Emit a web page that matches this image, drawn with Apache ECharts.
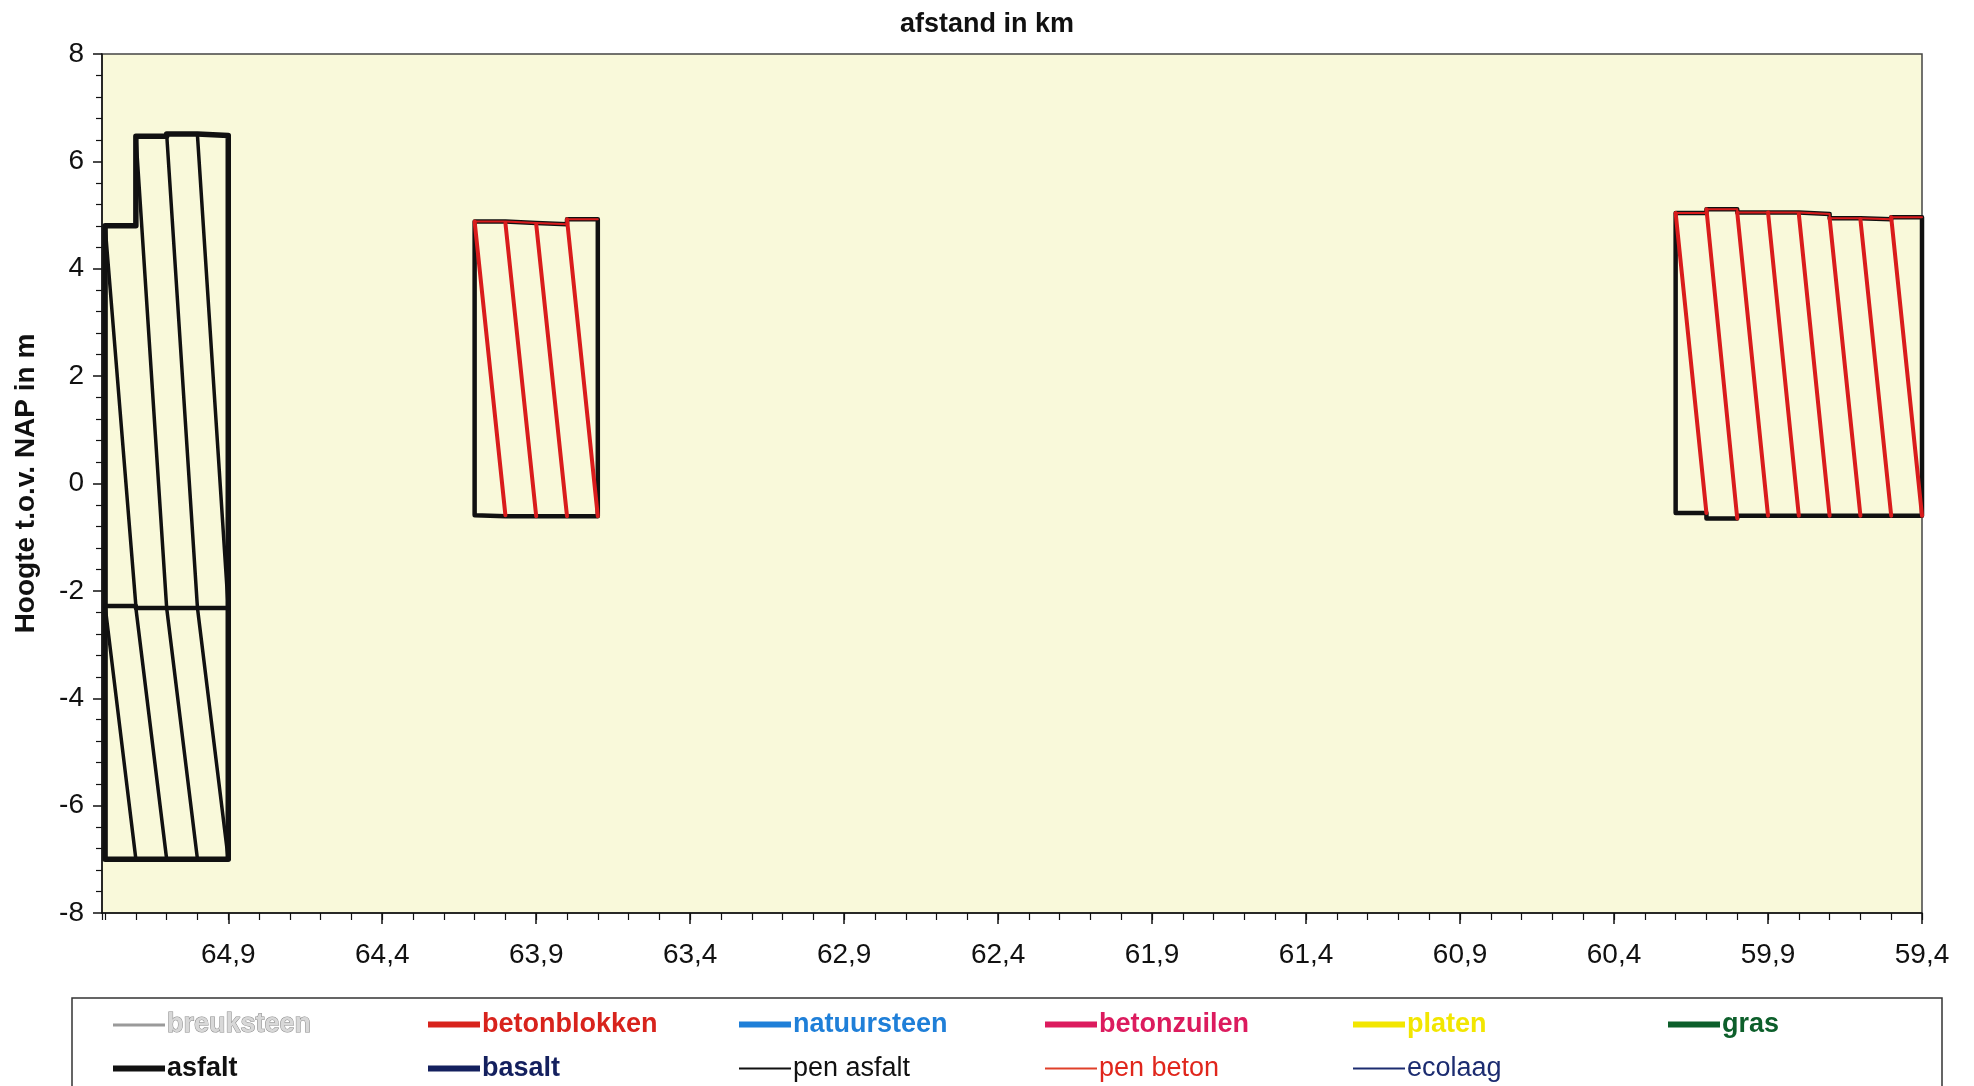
<!DOCTYPE html>
<html>
<head>
<meta charset="utf-8">
<script src="https://cdn.jsdelivr.net/npm/echarts@6/dist/echarts.min.js"></script>
<style>
html,body{margin:0;padding:0;background:#ffffff;}
#chart{width:1974px;height:1086px;}
</style>
</head>
<body>
<div id="chart"></div>
<script>
// ---------- data ----------
// axis
const xMin = 59.4, xMax = 65.31, xMajorStep = 0.5, xMinorStep = 0.1;
const yMin = -8, yMax = 8, yStep = 2;

// block 1 : asfalt (km 65.3 - 64.9), upper and lower layer
const asfaltKm     = [65.3, 65.2, 65.1, 65.0, 64.9];
const asfaltTop    = [4.8, 6.47, 6.51, 6.48];
const asfaltMid    = [-2.28, -2.32, -2.32, -2.32];
const asfaltBottom = [-7.0, -7.0, -7.0, -7.0];

// block 2 : beton (km 64.1 - 63.7)
const beton1Km     = [64.1, 64.0, 63.9, 63.8, 63.7];
const beton1Top    = [4.88, 4.85, 4.83, 4.92];
const beton1Bottom = [-0.59, -0.61, -0.61, -0.61];

// block 3 : beton (km 60.2 - 59.4)
const beton2Km     = [60.2, 60.1, 60.0, 59.9, 59.8, 59.7, 59.6, 59.5, 59.4];
const beton2Top    = [5.04, 5.11, 5.05, 5.05, 5.02, 4.94, 4.92, 4.96];
const beton2Bottom = [-0.55, -0.65, -0.6, -0.6, -0.6, -0.6, -0.6, -0.6];

// legend entries
const legendRow1 = ['breuksteen', 'betonblokken', 'natuursteen', 'betonzuilen', 'platen', 'gras'];
const legendRow2 = ['asfalt', 'basalt', 'pen asfalt', 'pen beton', 'ecolaag'];

// ---------- styles ----------
const FONT = "'Liberation Sans', Arial, sans-serif";
const BLACK = '#111111';
const RED = '#d91c1c';
const legendStyle = {
  'breuksteen':   {color: '#9a9a9a', text: '#d8d8d8', border: '#8a8a8a', h: 3, bold: true},
  'betonblokken': {color: '#d8231c', text: '#d8231c', h: 6, bold: true},
  'natuursteen':  {color: '#1f7fd8', text: '#1f7fd8', h: 6, bold: true},
  'betonzuilen':  {color: '#dc1b5e', text: '#dc1b5e', h: 6, bold: true},
  'platen':       {color: '#f2e600', text: '#f2e600', h: 6, bold: true},
  'gras':         {color: '#0d5f2b', text: '#0d5f2b', h: 6, bold: true},
  'asfalt':       {color: '#111111', text: '#111111', h: 6, bold: true},
  'basalt':       {color: '#14205e', text: '#14205e', h: 6, bold: true},
  'pen asfalt':   {color: '#111111', text: '#111111', h: 2, bold: false},
  'pen beton':    {color: '#e0402a', text: '#e0261c', h: 2, bold: false},
  'ecolaag':      {color: '#1c2c70', text: '#1c2c70', h: 2, bold: false}
};
const legendColX = [113, 428, 739, 1045, 1353, 1668];
const legendRowY = [1011, 1055];

// ---------- helpers building paths from the data ----------
function outlinePath(km, top, bottom) {
  const n = top.length;
  const pts = [[km[0], bottom[0]], [km[0], top[0]]];
  for (let i = 0; i < n; i++) {
    pts.push([km[i + 1], top[i]]);
    if (i + 1 < n) pts.push([km[i + 1], top[i + 1]]);
  }
  pts.push([km[n], bottom[n - 1]]);
  for (let i = n - 1; i >= 0; i--) {
    pts.push([km[i], bottom[i]]);
    if (i > 0) pts.push([km[i], bottom[i - 1]]);
  }
  return pts;
}
function stepPath(km, level) {
  const pts = [];
  for (let i = 0; i < level.length; i++) {
    pts.push([km[i], level[i]]);
    pts.push([km[i + 1], level[i]]);
  }
  return pts;
}
function diagonals(km, from, to) {
  const out = [];
  for (let i = 0; i < from.length; i++) {
    out.push({coords: [[km[i], from[i]], [km[i + 1], to[i]]]});
  }
  return out;
}
function polyline(data, color, width, z) {
  return {type: 'line', data: data, symbol: 'none', showSymbol: false, silent: true,
    lineStyle: {color: color, width: width, cap: 'round', join: 'round'}, z: z, animation: false};
}
function segLines(data, color, width, z) {
  return {type: 'lines', coordinateSystem: 'cartesian2d', data: data, polyline: false, silent: true,
    lineStyle: {color: color, width: width, opacity: 1, cap: 'round'}, effect: {show: false}, z: z, animation: false};
}

const series = [];
// block 1 (asfalt)
series.push(polyline(outlinePath(asfaltKm, asfaltTop, asfaltBottom), BLACK, 5.5, 5));
series.push(polyline(stepPath(asfaltKm, asfaltMid), BLACK, 4.5, 5));
series.push(segLines(diagonals(asfaltKm, asfaltTop, asfaltMid), BLACK, 3.5, 4));
series.push(segLines(diagonals(asfaltKm, asfaltMid, asfaltBottom), BLACK, 3.5, 4));
// block 2 (beton)
series.push(polyline(outlinePath(beton1Km, beton1Top, beton1Bottom), BLACK, 4.5, 4));
series.push(segLines(diagonals(beton1Km, beton1Top, beton1Bottom), RED, 4, 6));
series.push(polyline(stepPath(beton1Km, beton1Top), RED, 2, 6));
// block 3 (beton)
series.push(polyline(outlinePath(beton2Km, beton2Top, beton2Bottom), BLACK, 4.5, 4));
series.push(segLines(diagonals(beton2Km, beton2Top, beton2Bottom), RED, 4, 6));
series.push(polyline(stepPath(beton2Km, beton2Top), RED, 2, 6));

// legend dummy series
legendRow1.concat(legendRow2).forEach(function (name) {
  series.push({type: 'line', name: name, data: [], color: legendStyle[name].color, symbol: 'none'});
});

const legends = [];
[legendRow1, legendRow2].forEach(function (row, r) {
  row.forEach(function (name, c) {
    const st = legendStyle[name];
    legends.push({
      show: true, selectedMode: false, orient: 'horizontal',
      left: legendColX[c], top: legendRowY[r], padding: 0,
      itemWidth: 52, itemHeight: st.h, itemGap: 0,
      icon: 'rect',
      data: [{name: name, icon: 'rect'}],
      textStyle: {
        color: st.text, fontSize: 27, fontFamily: FONT,
        fontWeight: st.bold ? 'bold' : 'normal',
        textBorderColor: st.border || 'transparent',
        textBorderWidth: st.border ? 1 : 0,
        padding: [0, 0, 0, -3]
      }
    });
  });
});

const chart = echarts.init(document.getElementById('chart'), null, {renderer: 'canvas'});
chart.setOption({
  animation: false,
  backgroundColor: '#ffffff',
  title: {
    text: 'afstand in km', left: 'center', top: 6,
    textStyle: {fontFamily: FONT, fontSize: 27, fontWeight: 'bold', color: '#111'}
  },
  legend: legends,
  grid: {
    left: 102, right: 52, top: 54, bottom: 173,
    show: true, backgroundColor: '#f9f9da', borderColor: '#444', borderWidth: 1.5,
    containLabel: false
  },
  xAxis: [
    {
      type: 'value', inverse: true, position: 'bottom',
      min: xMin, max: xMax, interval: xMajorStep,
      axisLine: {show: true, onZero: false, lineStyle: {color: '#111', width: 1.5}},
      axisTick: {show: true, length: 11, lineStyle: {color: '#111', width: 1.5}},
      minorTick: {show: false},
      splitLine: {show: false},
      axisLabel: {
        show: true, margin: 28, fontSize: 28, fontFamily: FONT, color: '#111',
        showMaxLabel: false, showMinLabel: true,
        formatter: function (v) { return v.toFixed(1).replace('.', ','); }
      }
    },
    {
      type: 'value', inverse: true, position: 'bottom',
      min: xMin, max: xMax, interval: xMinorStep,
      axisLine: {show: false, onZero: false},
      axisTick: {show: true, length: 7, lineStyle: {color: '#111', width: 1.2}},
      splitLine: {show: false},
      axisLabel: {show: false}
    }
  ],
  yAxis: {
    type: 'value', min: yMin, max: yMax, interval: yStep,
    name: 'Hoogte t.o.v. NAP in m', nameLocation: 'middle', nameRotate: 90, nameGap: 62,
    nameTextStyle: {fontFamily: FONT, fontSize: 28, fontWeight: 'bold', color: '#111'},
    axisLine: {show: true, onZero: false, lineStyle: {color: '#111', width: 1.5}},
    axisTick: {show: true, length: 9, lineStyle: {color: '#111', width: 1.5}},
    minorTick: {show: true, splitNumber: 5, length: 6, lineStyle: {color: '#111', width: 1.2}},
    splitLine: {show: false},
    axisLabel: {margin: 18, fontSize: 28, fontFamily: FONT, color: '#111'}
  },
  graphic: [
    {
      type: 'rect', silent: true, z: -1,
      shape: {x: 72, y: 998, width: 1870, height: 110},
      style: {fill: '#ffffff', stroke: '#333333', lineWidth: 1.5}
    }
  ],
  series: series
});
</script>
</body>
</html>
